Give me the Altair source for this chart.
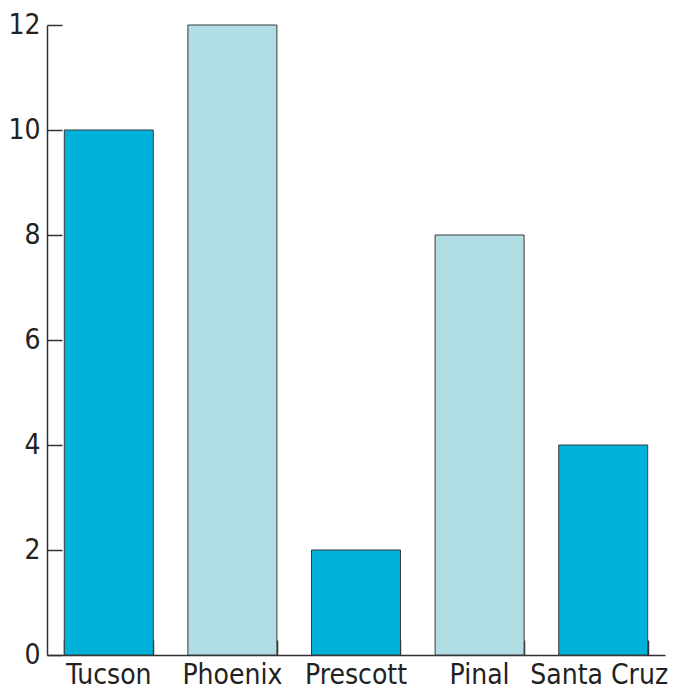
import altair as alt
import pandas as pd

cities = ["Tucson", "Phoenix", "Prescott", "Pinal", "Santa Cruz"]
values = [10, 12, 2, 8, 4]
shade = ["dark", "light", "dark", "light", "dark"]
y_ticks = [0, 2, 4, 6, 8, 10, 12]

df = pd.DataFrame({"city": cities, "value": values, "shade": shade})

FONT = "DejaVu Sans Condensed, DejaVu Sans"
AX = "#333333"
W, H = 618, 630

xscale = alt.Scale(domain=cities, paddingInner=0.28, paddingOuter=0.14)
yscale = alt.Scale(domain=[0, 12], nice=False)
cscale = alt.Scale(domain=["dark", "light"], range=["#00B2DA", "#B0DEE4"])

base = alt.Chart(df)

bars = base.mark_bar(stroke="#3a3a3a", strokeWidth=1).encode(
    x=alt.X("city:N", sort=cities, scale=xscale, title=None,
            axis=alt.Axis(orient="bottom", ticks=False, domain=True, domainColor=AX,
                          domainWidth=1.5, labelAngle=0, labelFont=FONT, labelFontSize=28,
                          labelColor="#222222", labelPadding=6, labelBaseline="top",
                          labelOffset={"condition": {"test": "datum.label == 'Santa Cruz'",
                                                     "value": -4}, "value": 0},
                          grid=False)),
    y=alt.Y("value:Q", scale=yscale, title=None,
            axis=alt.Axis(orient="left", values=y_ticks, ticks=False, domain=True,
                          domainColor=AX, domainWidth=1.5, labelFont=FONT,
                          labelFontSize=28, labelColor="#222222", labelPadding=7,
                          grid=False)),
    color=alt.Color("shade:N", scale=cscale, legend=None),
)

ticks_layer = base.mark_bar(opacity=0).encode(
    x=alt.X("city:N", sort=cities, scale=xscale, title=None,
            axis=alt.Axis(orient="top", offset=-H, ticks=True, tickBand="extent",
                          tickSize=15, tickColor=AX, tickWidth=1.5, labels=False,
                          domain=False, grid=False)),
    y=alt.Y("value:Q", scale=yscale, title=None,
            axis=alt.Axis(orient="right", offset=-W, values=y_ticks, ticks=True,
                          tickSize=15, tickColor=AX, tickWidth=1.5, labels=False,
                          domain=False, grid=False)),
)

chart = alt.layer(bars, ticks_layer).resolve_axis(
    x="independent", y="independent"
).properties(
    width=W, height=H,
    autosize=alt.AutoSizeParams(type="none"),
    padding={"left": 39, "top": 17, "right": 3, "bottom": 35},
).configure_view(stroke=None)

chart.save("out.html", embed_options={"renderer": "svg", "actions": False})
